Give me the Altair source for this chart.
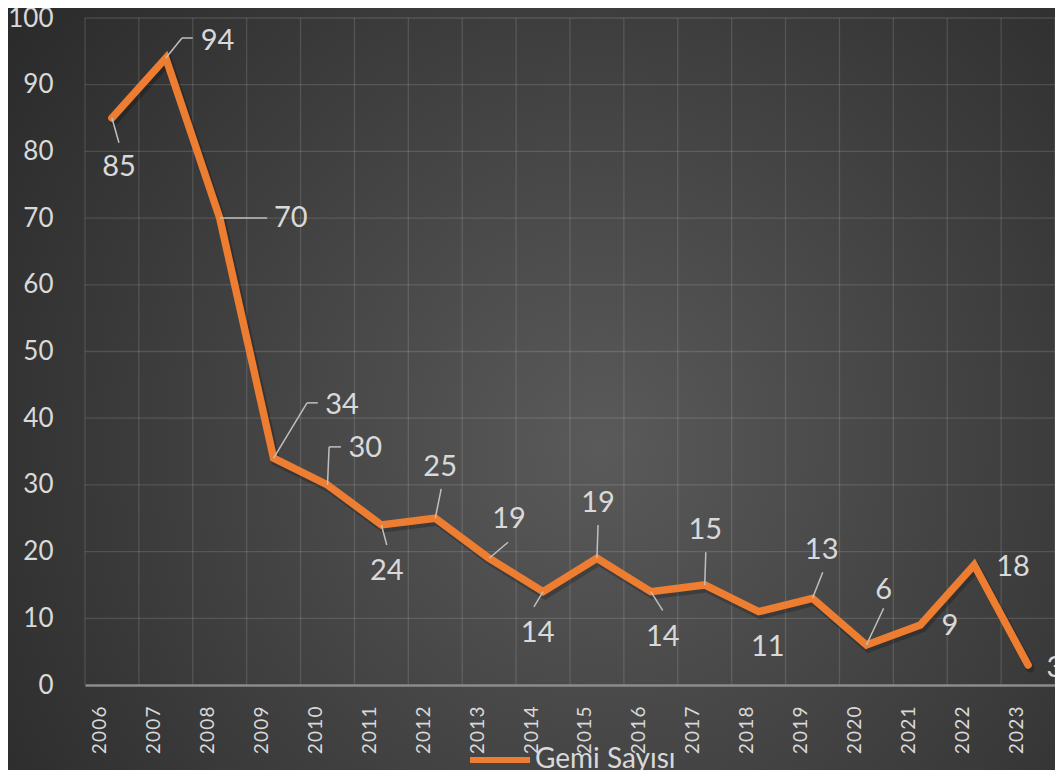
import altair as alt
import pandas as pd

# ---- data ----
years = list(range(2006, 2024))
values = [85, 94, 70, 34, 30, 24, 25, 19, 14, 19, 14, 15, 11, 13, 6, 9, 18, 3]
series_name = "Gemi Sayısı"

# data-label anchors (in data units: year, value)
label_x = [2006.13, 2007.96, 2009.32, 2010.27, 2010.70, 2011.10, 2012.09, 2013.37, 2013.90,
           2015.02, 2016.22, 2017.01, 2018.17, 2019.17, 2020.32, 2021.55, 2022.72, 2023.50]
label_y = [77.7, 96.6, 70.0, 42.0, 35.5, 17.1, 32.7, 24.9, 7.8,
           27.3, 7.2, 23.2, 5.7, 20.2, 14.2, 8.8, 17.7, 2.5]

# leader lines: end anchor and optional elbow (data units)
leader_x = [2006.13, 2007.50, 2008.88, 2009.82, 2010.25, 2011.10, 2012.11, 2013.35, 2013.83,
            2015.02, 2016.22, 2017.02, None, 2019.19, 2020.32, None, None, None]
leader_y = [81.3, 97.0, 70.0, 42.3, 35.7, 21.0, 29.4, 21.4, 11.7,
            24.0, 11.2, 19.9, None, 16.9, 11.5, None, None, None]
elbow_x = [None, 2007.30, None, 2009.62, 2010.03] + [None] * 13
elbow_y = [None, 97.0, None, 42.3, 35.7] + [None] * 13

y_ticks = list(range(0, 101, 10))
x_grid = [2005.5 + i for i in range(19)]

# ---- tables ----
df = pd.DataFrame({"year": years, "value": values, "series": [series_name] * len(years)})
labels = pd.DataFrame({"lx": label_x, "ly": label_y, "text": [str(v) for v in values]})

segs = []
for yr, v, ex, ey, lx, ly in zip(years, values, elbow_x, elbow_y, leader_x, leader_y):
    if lx is None:
        continue
    if ex is not None:
        segs.append({"x": yr, "y": v, "x2": ex, "y2": ey})
        segs.append({"x": ex, "y": ey, "x2": lx, "y2": ly})
    else:
        segs.append({"x": yr, "y": v, "x2": lx, "y2": ly})
seg_df = pd.DataFrame(segs)

W, H = 970, 667
LABEL_COLOR = "#d9d9d9"
ORANGE = "#ED7D31"
GRID = "#ffffff"
GRID_OP = 0.13

x_scale = alt.Scale(domain=[2005.5, 2023.5], nice=False, zero=False)
y_scale = alt.Scale(domain=[0, 100], nice=False)

x_axis = alt.Axis(
    values=years,
    format="d",
    labelExpr="join(split(datum.label, ''), '\u200a')",
    labelAngle=270,
    labelFont="Lato",
    labelFontSize=19,
    labelColor=LABEL_COLOR,
    labelOffset=-12,
    labelPadding=21,
    labelOverlap=False,
    ticks=False,
    tickSize=0,
    grid=False,
    domain=True,
    domainColor="#8c8c8c",
    domainWidth=2.5,
    title=None,
    zindex=1,
)
y_axis = alt.Axis(
    values=y_ticks,
    labelFont="Lato",
    labelFontSize=26,
    labelColor=LABEL_COLOR,
    labelPadding=32,
    ticks=False,
    tickSize=0,
    domain=False,
    grid=False,
    title=None,
    zindex=1,
)

bg = alt.Chart(pd.DataFrame({"a": [0]})).mark_rect(
    color=alt.Gradient(
        gradient="radial",
        stops=[alt.GradientStop(offset=0, color="#5a5a5a"),
               alt.GradientStop(offset=1, color="#262626")],
        x1=0.56, y1=0.55, x2=0.56, y2=0.55, r1=0, r2=0.75,
    )
).encode(
    x=alt.value(-77), x2=alt.value(W + 10),
    y=alt.value(-10), y2=alt.value(H + 95),
)

vgrid = alt.Chart(pd.DataFrame({"gx": x_grid})).mark_rule(
    color=GRID, opacity=GRID_OP, strokeWidth=1.3
).encode(x=alt.X("gx:Q", scale=x_scale, axis=x_axis))

hgrid = alt.Chart(pd.DataFrame({"gy": y_ticks[1:]})).mark_rule(
    color=GRID, opacity=GRID_OP, strokeWidth=1.3
).encode(y=alt.Y("gy:Q", scale=y_scale, axis=y_axis))

shadow = alt.Chart(df).mark_line(
    strokeWidth=9, strokeCap="round", color="#000000", opacity=0.22, xOffset=2, yOffset=3
).encode(
    x=alt.X("year:Q", scale=x_scale),
    y=alt.Y("value:Q", scale=y_scale),
)

line = alt.Chart(df).mark_line(strokeWidth=7.5, strokeCap="round").encode(
    x=alt.X("year:Q", scale=x_scale, axis=x_axis),
    y=alt.Y("value:Q", scale=y_scale, axis=y_axis),
    color=alt.Color(
        "series:N",
        scale=alt.Scale(range=[ORANGE]),
        legend=alt.Legend(
            title=None,
            orient="none",
            legendX=382,
            legendY=709,
            symbolType="stroke",
            symbolSize=3600,
            symbolStrokeWidth=6,
            labelFont="Lato",
            labelFontSize=28,
            labelColor=LABEL_COLOR,
            padding=0,
            labelOffset=2,
            zindex=1,
        ),
    ),
)

leaders = alt.Chart(seg_df).mark_rule(color="#bfbfbf", strokeWidth=1.5).encode(
    x=alt.X("x:Q", scale=x_scale), y=alt.Y("y:Q", scale=y_scale),
    x2="x2:Q", y2="y2:Q",
)

texts = alt.Chart(labels).mark_text(
    font="Lato", fontSize=29, color=LABEL_COLOR, align="center", baseline="middle"
).encode(
    x=alt.X("lx:Q", scale=x_scale), y=alt.Y("ly:Q", scale=y_scale), text="text:N"
)

chart = alt.layer(bg, vgrid, hgrid, shadow, line, leaders, texts).properties(
    width=W, height=H,
    autosize=alt.AutoSizeParams(type="none"),
    padding={"left": 77, "top": 10, "right": 0, "bottom": 85},
    background="#2c2c2c",
).configure_view(stroke=None).configure(font="Lato")

chart.save("out.html", embed_options={"renderer": "svg", "actions": False})
